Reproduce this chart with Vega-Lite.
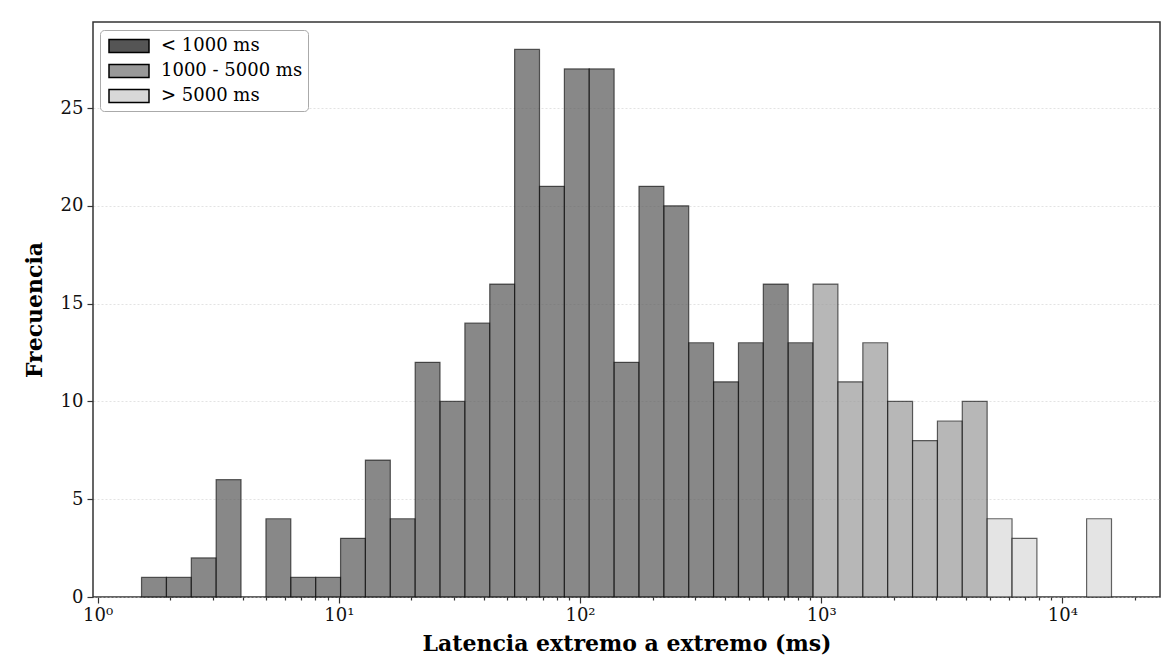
{
  "$schema": "https://vega.github.io/schema/vega-lite/v6.json",
  "width": 1067,
  "height": 575,
  "autosize": {"type": "none"},
  "padding": {"left": 93, "top": 22, "right": 5, "bottom": 66},
  "background": "white",
  "config": {
    "font": "DejaVu Serif",
    "view": {"stroke": "#333333", "strokeWidth": 1.5}
  },
  "data": {
    "values": [
      {"lo": 1.521, "hi": 1.929, "count": 1, "grupo": "< 1000 ms"},
      {"lo": 1.929, "hi": 2.446, "count": 1, "grupo": "< 1000 ms"},
      {"lo": 2.446, "hi": 3.101, "count": 2, "grupo": "< 1000 ms"},
      {"lo": 3.101, "hi": 3.932, "count": 6, "grupo": "< 1000 ms"},
      {"lo": 4.988, "hi": 6.324, "count": 4, "grupo": "< 1000 ms"},
      {"lo": 6.324, "hi": 8.019, "count": 1, "grupo": "< 1000 ms"},
      {"lo": 8.019, "hi": 10.17, "count": 1, "grupo": "< 1000 ms"},
      {"lo": 10.17, "hi": 12.89, "count": 3, "grupo": "< 1000 ms"},
      {"lo": 12.89, "hi": 16.35, "count": 7, "grupo": "< 1000 ms"},
      {"lo": 16.35, "hi": 20.73, "count": 4, "grupo": "< 1000 ms"},
      {"lo": 20.73, "hi": 26.28, "count": 12, "grupo": "< 1000 ms"},
      {"lo": 26.28, "hi": 33.32, "count": 10, "grupo": "< 1000 ms"},
      {"lo": 33.32, "hi": 42.25, "count": 14, "grupo": "< 1000 ms"},
      {"lo": 42.25, "hi": 53.57, "count": 16, "grupo": "< 1000 ms"},
      {"lo": 53.57, "hi": 67.94, "count": 28, "grupo": "< 1000 ms"},
      {"lo": 67.94, "hi": 86.14, "count": 21, "grupo": "< 1000 ms"},
      {"lo": 86.14, "hi": 109.2, "count": 27, "grupo": "< 1000 ms"},
      {"lo": 109.2, "hi": 138.5, "count": 27, "grupo": "< 1000 ms"},
      {"lo": 138.5, "hi": 175.6, "count": 12, "grupo": "< 1000 ms"},
      {"lo": 175.6, "hi": 222.7, "count": 21, "grupo": "< 1000 ms"},
      {"lo": 222.7, "hi": 282.3, "count": 20, "grupo": "< 1000 ms"},
      {"lo": 282.3, "hi": 357.9, "count": 13, "grupo": "< 1000 ms"},
      {"lo": 357.9, "hi": 453.9, "count": 11, "grupo": "< 1000 ms"},
      {"lo": 453.9, "hi": 575.4, "count": 13, "grupo": "< 1000 ms"},
      {"lo": 575.4, "hi": 729.7, "count": 16, "grupo": "< 1000 ms"},
      {"lo": 729.7, "hi": 925.4, "count": 13, "grupo": "< 1000 ms"},
      {"lo": 925.4, "hi": 1173, "count": 16, "grupo": "1000 - 5000 ms"},
      {"lo": 1173, "hi": 1488, "count": 11, "grupo": "1000 - 5000 ms"},
      {"lo": 1488, "hi": 1886, "count": 13, "grupo": "1000 - 5000 ms"},
      {"lo": 1886, "hi": 2392, "count": 10, "grupo": "1000 - 5000 ms"},
      {"lo": 2392, "hi": 3033, "count": 8, "grupo": "1000 - 5000 ms"},
      {"lo": 3033, "hi": 3845, "count": 9, "grupo": "1000 - 5000 ms"},
      {"lo": 3845, "hi": 4876, "count": 10, "grupo": "1000 - 5000 ms"},
      {"lo": 4876, "hi": 6183, "count": 4, "grupo": "> 5000 ms"},
      {"lo": 6183, "hi": 7840, "count": 3, "grupo": "> 5000 ms"},
      {"lo": 12600, "hi": 15980, "count": 4, "grupo": "> 5000 ms"}
    ]
  },
  "mark": {
    "type": "rect",
    "fillOpacity": 0.7,
    "stroke": "#000000",
    "strokeOpacity": 0.6,
    "strokeWidth": 1.2
  },
  "encoding": {
    "x": {
      "field": "lo",
      "type": "quantitative",
      "scale": {"type": "log", "domain": [0.957, 25390], "nice": false},
      "axis": {
        "title": "Latencia extremo a extremo (ms)",
        "titleFont": "DejaVu Serif",
        "titleFontSize": 22,
        "titleFontWeight": "bold",
        "titleColor": "#000000",
        "titlePadding": 9,
        "values": [1, 2, 3, 4, 5, 6, 7, 8, 9, 10, 20, 30, 40, 50, 60, 70, 80, 90, 100, 200, 300, 400, 500, 600, 700, 800, 900, 1000, 2000, 3000, 4000, 5000, 6000, 7000, 8000, 9000, 10000, 20000],
        "labelExpr": "datum.value == 1 ? '10⁰' : datum.value == 10 ? '10¹' : datum.value == 100 ? '10²' : datum.value == 1000 ? '10³' : datum.value == 10000 ? '10⁴' : ''",
        "labelFont": "DejaVu Serif",
        "labelFontSize": 18,
        "labelColor": "#111111",
        "labelOverlap": false,
        "labelFlush": false,
        "labelPadding": 3,
        "domain": false,
        "grid": false,
        "tickColor": "#333333",
        "tickWidth": 1.2,
        "tickSize": {"condition": {"test": "datum.value == 1 || datum.value == 10 || datum.value == 100 || datum.value == 1000 || datum.value == 10000", "value": 6}, "value": 3}
      }
    },
    "x2": {"field": "hi"},
    "y": {
      "field": "count",
      "type": "quantitative",
      "scale": {"domain": [0, 29.4], "nice": false, "zero": true},
      "axis": {
        "title": "Frecuencia",
        "titleFont": "DejaVu Serif",
        "titleFontSize": 22,
        "titleFontWeight": "bold",
        "titleColor": "#000000",
        "titlePadding": 14,
        "values": [0, 5, 10, 15, 20, 25],
        "labelFont": "DejaVu Serif",
        "labelFontSize": 18,
        "labelColor": "#111111",
        "labelPadding": 4,
        "domain": false,
        "tickColor": "#333333",
        "tickWidth": 1.2,
        "tickSize": 6,
        "grid": true,
        "gridColor": "#cccccc",
        "gridDash": [2, 2],
        "gridWidth": 0.8,
        "gridOpacity": 0.7
      }
    },
    "y2": {"datum": 0},
    "color": {
      "field": "grupo",
      "type": "nominal",
      "scale": {
        "domain": ["< 1000 ms", "1000 - 5000 ms", "> 5000 ms"],
        "range": ["#555555", "#999999", "#d8d8d8"]
      },
      "legend": {
        "title": null,
        "orient": "none",
        "legendX": 7,
        "legendY": 8,
        "direction": "vertical",
        "fillColor": "#ffffff",
        "strokeColor": "#aaaaaa",
        "cornerRadius": 4,
        "padding": 5,
        "rowPadding": 4,
        "symbolType": "M-2,-0.65H2V0.65H-2Z",
        "symbolSize": 400,
        "symbolOffset": 13,
        "symbolStrokeColor": "#000000",
        "symbolStrokeWidth": 1.5,
        "symbolOpacity": 1,
        "labelFont": "DejaVu Serif",
        "labelFontSize": 18,
        "labelColor": "#000000",
        "labelOffset": 21,
        "encode": {"symbols": {"update": {"fillOpacity": {"value": 1}, "strokeOpacity": {"value": 1}}}}
      }
    }
  }
}
